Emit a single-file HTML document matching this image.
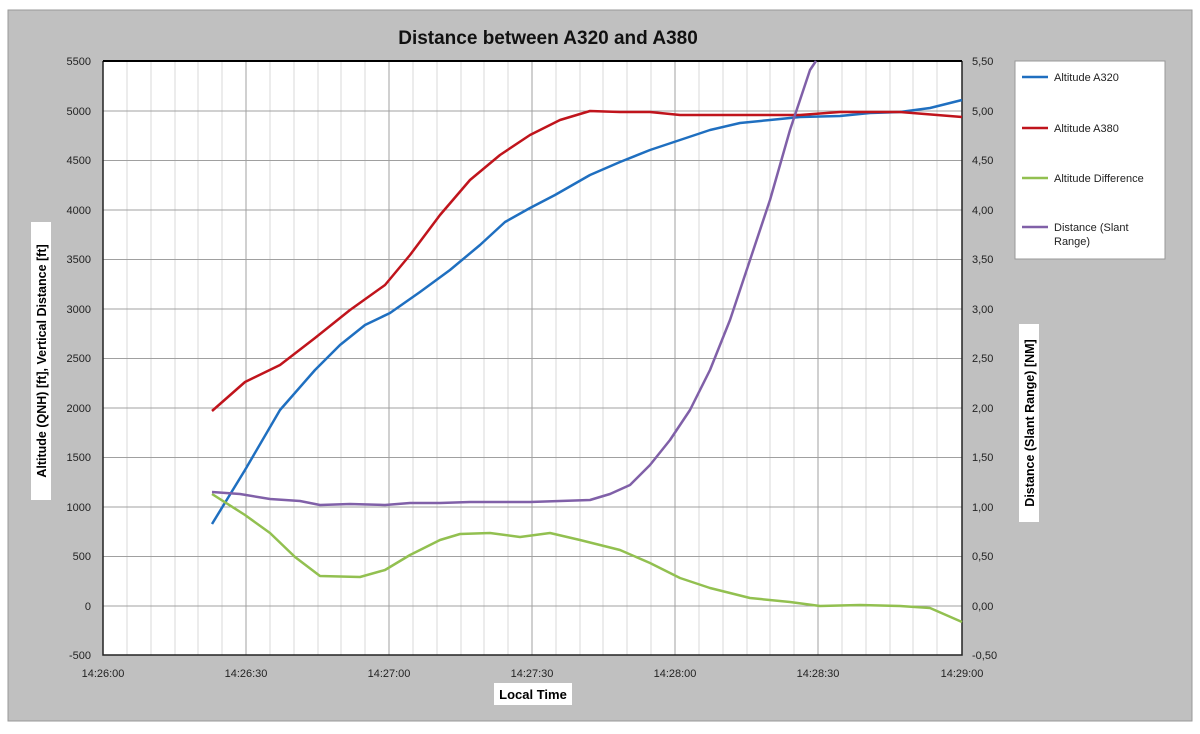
<!DOCTYPE html><html><head><style>body{margin:0;background:#fff}svg{display:block;font-family:"Liberation Sans",sans-serif}</style></head><body>
<svg width="1200" height="734" xmlns="http://www.w3.org/2000/svg">
<rect x="8" y="10" width="1184" height="711" fill="#c0c0c0" stroke="#999"/>
<rect x="103" y="61" width="859" height="594" fill="#fff"/>
<g stroke="#d8d8d8" stroke-width="1">
<path d="M127 61V655M151 61V655M175 61V655M198 61V655M222 61V655M270 61V655M294 61V655M318 61V655M341 61V655M365 61V655M413 61V655M437 61V655M461 61V655M484 61V655M508 61V655M556 61V655M580 61V655M603 61V655M627 61V655M651 61V655M699 61V655M723 61V655M747 61V655M770 61V655M794 61V655M842 61V655M866 61V655M890 61V655M913 61V655M937 61V655"/>
</g>
<g stroke="#a0a0a0" stroke-width="1">
<path d="M246 61V655M389 61V655M532 61V655M675 61V655M818 61V655"/>
<path d="M103 111H962M103 160.5H962M103 210H962M103 259.5H962M103 309H962M103 358.5H962M103 408H962M103 457.5H962M103 507H962M103 556.5H962M103 606H962"/>
</g>
<path d="M103 61H962M103 61V655H962V61" fill="none" stroke="#222" stroke-width="1.5"/>
<path d="M103 61H962" stroke="#000" stroke-width="2"/>
<g fill="none" stroke-width="2.5" stroke-linejoin="round">
<polyline stroke="#1f6fc0" points="212,524 245,470 280,410 315,370 340,345 365,325 390,313 420,292 450,270 480,245 505,222 530,208 555,195 590,175 620,162 650,150 680,140 710,130 740,123 770,120 800,117 840,116 870,113 900,112 930,108 962,100"/>
<polyline stroke="#c0141c" points="212,411 245,382 280,365 315,338 350,310 385,285 410,255 440,215 470,180 500,155 530,135 560,120 590,111 620,112 650,112 680,115 720,115 800,115 840,112 900,112 962,117"/>
<polyline stroke="#92c050" points="212,494 245,515 270,533 295,557 320,576 360,577 385,570 410,555 440,540 460,534 490,533 520,537 550,533 580,540 620,550 650,563 680,578 710,588 750,598 790,602 820,606 860,605 900,606 930,608 962,622"/>
<polyline stroke="#8060a8" points="212,492 240,494 270,499 300,501 320,505 350,504 385,505 410,503 440,503 470,502 500,502 530,502 560,501 590,500 610,494 630,485 650,465 670,440 690,410 710,370 730,320 750,260 770,200 790,130 810,70 816,61"/>
</g>
<text x="548" y="44" font-size="19" font-weight="bold" text-anchor="middle" fill="#111">Distance between A320 and A380</text>
<g font-size="11" fill="#222" text-anchor="end">
<text x="91" y="65">5500</text><text x="91" y="115">5000</text><text x="91" y="164">4500</text><text x="91" y="214">4000</text><text x="91" y="263">3500</text><text x="91" y="313">3000</text><text x="91" y="362">2500</text><text x="91" y="412">2000</text><text x="91" y="461">1500</text><text x="91" y="511">1000</text><text x="91" y="560">500</text><text x="91" y="610">0</text><text x="91" y="659">-500</text>
</g>
<g font-size="11" fill="#222">
<text x="972" y="65">5,50</text><text x="972" y="115">5,00</text><text x="972" y="164">4,50</text><text x="972" y="214">4,00</text><text x="972" y="263">3,50</text><text x="972" y="313">3,00</text><text x="972" y="362">2,50</text><text x="972" y="412">2,00</text><text x="972" y="461">1,50</text><text x="972" y="511">1,00</text><text x="972" y="560">0,50</text><text x="972" y="610">0,00</text><text x="972" y="659">-0,50</text>
</g>
<g font-size="11" fill="#222" text-anchor="middle">
<text x="103" y="677">14:26:00</text><text x="246" y="677">14:26:30</text><text x="389" y="677">14:27:00</text><text x="532" y="677">14:27:30</text><text x="675" y="677">14:28:00</text><text x="818" y="677">14:28:30</text><text x="962" y="677">14:29:00</text>
</g>
<rect x="494" y="683" width="78" height="22" fill="#fff"/>
<text x="533" y="699" font-size="13" font-weight="bold" text-anchor="middle">Local Time</text>
<rect x="31" y="222" width="20" height="278" fill="#fff"/>
<text transform="translate(46,361) rotate(-90)" font-size="12.5" font-weight="bold" text-anchor="middle">Altitude (QNH) [ft], Vertical Distance [ft]</text>
<rect x="1019" y="324" width="20" height="198" fill="#fff"/>
<text transform="translate(1034,423) rotate(-90)" font-size="12.5" font-weight="bold" text-anchor="middle">Distance (Slant Range) [NM]</text>
<rect x="1015" y="61" width="150" height="198" fill="#fff" stroke="#999"/>
<g stroke-width="2.5"><path d="M1022 77H1048" stroke="#1f6fc0"/><path d="M1022 128H1048" stroke="#c0141c"/><path d="M1022 178H1048" stroke="#92c050"/><path d="M1022 227H1048" stroke="#8060a8"/></g>
<g font-size="11" fill="#222"><text x="1054" y="81">Altitude A320</text><text x="1054" y="132">Altitude A380</text><text x="1054" y="182">Altitude Difference</text><text x="1054" y="231">Distance (Slant</text><text x="1054" y="245">Range)</text></g>
</svg></body></html>
